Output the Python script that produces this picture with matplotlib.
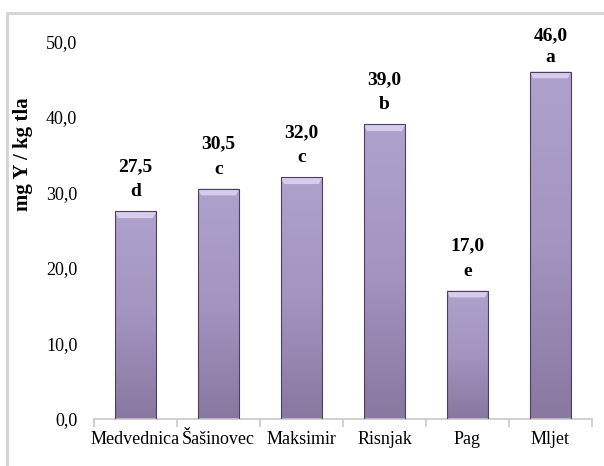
import numpy as np
import matplotlib
matplotlib.use('Agg')
import matplotlib.pyplot as plt
from matplotlib.colors import LinearSegmentedColormap
from matplotlib.lines import Line2D

sites = ['Medvednica', 'Šašinovec', 'Maksimir', 'Risnjak', 'Pag', 'Mljet']
values = [27.5, 30.5, 32.0, 39.0, 17.0, 46.0]
letters = ['d', 'c', 'c', 'b', 'e', 'a']

plt.rcParams['font.family'] = ['Liberation Serif', 'DejaVu Serif']

W, H = 604.0, 466.0
fig = plt.figure(figsize=(W / 100, H / 100), dpi=100)
ax = fig.add_axes([0.1556, 0.1009, 0.8245, 0.8105])

# outer frame (left and top edges are visible)
fig.add_artist(Line2D([7 / W, 7 / W], [0, 1 - 13 / H], color='#d6d6d6', lw=2.2,
                      transform=fig.transFigure))
fig.add_artist(Line2D([7 / W, 1], [1 - 13 / H, 1 - 13 / H], color='#d6d6d6', lw=2.2,
                      transform=fig.transFigure))

x = np.arange(len(sites))
bw = 0.5
bars = ax.bar(x, values, width=bw, color='none', edgecolor='#4b4060', linewidth=0.8, zorder=3)

ax.set_xlim(-0.5, len(sites) - 0.5)
ax.set_ylim(0, 50)

# vertical gradient fill for each bar
cmap = LinearSegmentedColormap.from_list('bar', ['#8878a0', '#a394c0', '#aea2cc'])
grad = np.linspace(0, 1, 256).reshape(-1, 1)
for b in bars:
    x0, h = b.get_x(), b.get_height()
    im = ax.imshow(grad, cmap=cmap, aspect='auto', origin='lower',
                   extent=[x0, x0 + bw, 0, h], zorder=2)
    im.set_clip_path(b)
    # light bevel along the top edge
    ax.fill([x0, x0 + bw, x0 + bw - 0.04, x0 + 0.04], [h, h, h - 0.9, h - 0.9],
            color='#d6ccec', lw=0, zorder=2.5)

# labels sit above the bars, pushed down where they would leave the plot area
fig.canvas.draw()
px_per_unit = ax.transData.transform((0, 1))[1] - ax.transData.transform((0, 0))[1]
top_px = H * (1 - 40 / H)  # highest allowed baseline, in display pixels
for xi, v, l in zip(x, values, letters):
    bar_px = ax.transData.transform((0, v))[1]
    shift = max(0, bar_px + 40 - top_px)
    v_val = v + (40 - shift) / px_per_unit
    v_let = v + (15 - shift * 0.6) / px_per_unit
    ax.text(xi, v_val, f'{v:.1f}'.replace('.', ','), ha='center', va='baseline',
            fontsize=14, fontweight='bold')
    ax.text(xi, v_let, l, ha='center', va='baseline', fontsize=14, fontweight='bold')

ax.set_yticks(np.arange(0, 51, 10))
ax.set_yticklabels([f'{t:.1f}'.replace('.', ',') for t in np.arange(0, 51, 10)])
ax.set_xticks(x)
ax.set_xticklabels(sites)
ax.set_xticks(np.arange(-0.5, len(sites)), minor=True)

for s in ['top', 'right', 'left']:
    ax.spines[s].set_visible(False)
ax.spines['bottom'].set_color('#c8c8c8')
ax.spines['bottom'].set_linewidth(1.2)

ax.tick_params(axis='y', length=0, pad=12, labelsize=13)
ax.tick_params(axis='x', which='major', length=0, pad=9, labelsize=13)
ax.tick_params(axis='x', which='minor', length=6, width=1.2, color='#c8c8c8')

ax.set_ylabel('mg Y / kg tla', fontsize=15, fontweight='bold')
ax.yaxis.set_label_coords(-0.122, 0.70)

fig.savefig('out.png', dpi=100)
